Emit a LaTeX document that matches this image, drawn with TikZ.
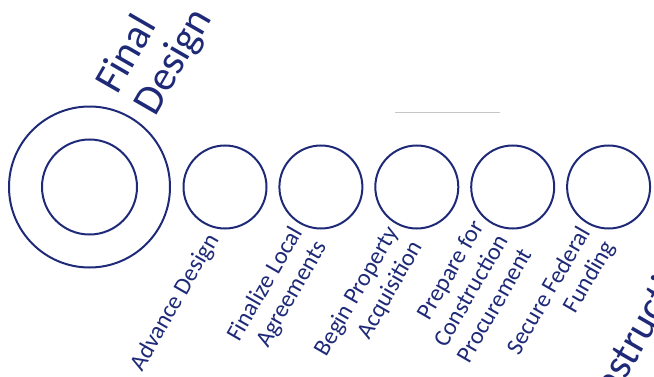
\documentclass[tikz,border=0pt]{standalone}
\usepackage{fontspec}
\setmainfont{Carlito}
\usetikzlibrary{positioning,calc}
\definecolor{stageblue}{RGB}{30,42,120}
\newcommand{\StepFont}{\fontsize{24}{28}\selectfont}
\newcommand{\PhaseFont}{\fontsize{42}{44}\selectfont}

\begin{document}
\begin{tikzpicture}[x=1pt,y=1pt,
        ring/.style={draw=stageblue,line width=2pt,circle,minimum size=#1,inner sep=0pt},
        steplabel/.style={rotate=60,anchor=east,align=right,inner sep=0pt,
            text=stageblue,font=\StepFont},
        phaselabel/.style={rotate=60,align=left,inner sep=0pt,
            text=stageblue,font=\PhaseFont}]
                \useasboundingbox (0,0) rectangle (654,376);
                \clip (0,0) rectangle (654,376);

                \node[ring=161pt] (final) at (89.5,189) {};
                \node[ring=95pt] (finalcore) at (final) {};
                \node[phaselabel,anchor=west] (finaltext)
                    at ($(final)+(37,86)$) {Final\\Design};

                \node[ring=83pt] (advance) at (225,189) {};
                \node[ring=83pt] (agree) at (320.9,189) {};
                \node[ring=83pt] (property) at (416.8,189) {};
                \node[ring=83pt] (procure) at (512.7,189) {};
                \node[ring=83pt] (funding) at (608.6,189) {};

                \node[steplabel] (advancetext) at ($(advance)+(-11,-49)$)
                    {Advance Design};
                \node[steplabel] (agreetext) at ($(agree)+(-11,-49)$)
                    {Finalize Local\\Agreements};
                \node[steplabel] (propertytext) at ($(property)+(-11,-49)$)
                    {Begin Property\\Acquisition};
                \node[steplabel] (procuretext) at ($(procure)+(-11,-49)$)
                    {Prepare for\\Construction\\Procurement};
                \node[steplabel] (fundingtext) at ($(funding)+(-11,-49)$)
                    {Secure Federal\\Funding};

                \node[phaselabel,anchor=base west] (constructiontext)
                    at (591.7,-62.7) {Construction};

                \coordinate (rulestart) at (395,264);
                \coordinate (ruleend) at (500,264);
                \draw[gray!45,line width=0.8pt] (rulestart) -- (ruleend);
            \end{tikzpicture}
\end{document}
